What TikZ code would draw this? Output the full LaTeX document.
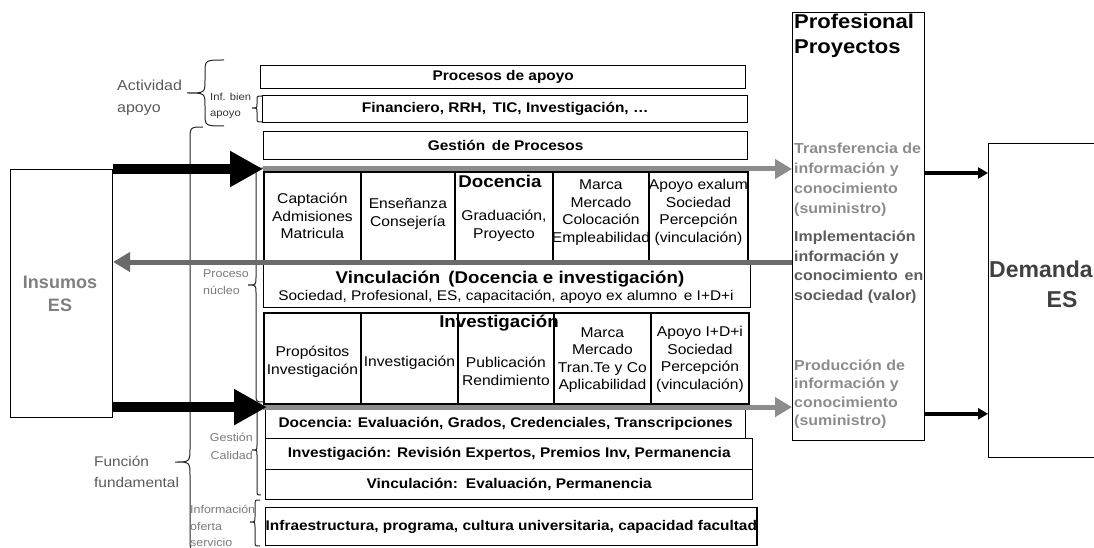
\documentclass[tikz,border=0pt]{standalone}
\usepackage{fontspec}
\setmainfont{Liberation Sans}[FakeStretch=1.1]
\newfontfamily\plainsans{Liberation Sans}
\usetikzlibrary{arrows.meta,calc}
\newcommand\fsz[2]{\fontsize{#1}{#2}\selectfont}
% left-pointing curly brace: xe, xm, xt, ytop, ytip, ybottom, radius
\newcommand\curlyleft[7]{%
  \draw[bracepen] (#1,#4) .. controls (#2,#4) .. (#2,{#4+#7}) -- (#2,{#5-#7})
    .. controls (#2,#5) .. (#3,#5) .. controls (#2,#5) .. (#2,{#5+#7})
    -- (#2,{#6-#7}) .. controls (#2,#6) .. (#1,#6);}
\definecolor{labgray}{HTML}{5A5A5A}
\definecolor{smallgray}{HTML}{7A7A7A}
\definecolor{flowgray}{HTML}{8C8C8C}
\definecolor{backgray}{HTML}{6A6A6A}
\definecolor{insgray}{HTML}{7F7F7F}
\definecolor{impgray}{HTML}{5C5C5C}
\definecolor{demgray}{HTML}{404040}
\definecolor{infgray}{HTML}{333333}
\begin{document}
\begin{tikzpicture}[x=1pt,y=-1pt,
  frame/.style={draw=black, line width=1.1pt, inner sep=0pt, anchor=north west},
  box/.style={draw=black, line width=1.4pt, inner sep=0pt, anchor=north west,
    font=\fsz{14}{16}\bfseries},
  cell/.style={draw=black, line width=1.8pt, inner sep=0pt, anchor=north west,
    minimum height=91pt},
  celltxt/.style={align=center, inner sep=0pt, font=\fsz{14.2}{17.5}},
  rowtitle/.style={inner sep=0pt, anchor=base, font=\fsz{17}{20}\bfseries},
  sidelbl/.style={align=left, inner sep=0pt, text=labgray, font=\fsz{14.5}{21.5}},
  smalllbl/.style={align=left, inner sep=0pt, text=smallgray, font=\fsz{11.3}{17}},
  outtxt/.style={align=left, inner sep=0pt, anchor=west, font=\fsz{14.5}{20}\bfseries},
  bracepen/.style={draw=black!85, line width=1pt},
  bigarrow/.style={draw=black, line width=10pt, -{Triangle[length=33pt,width=34pt]}},
  flowarrow/.style={draw=flowgray, line width=5pt, -{Triangle[length=17pt,width=19pt]}},
  backarrow/.style={draw=backgray, line width=5pt, -{Triangle[length=17pt,width=19pt]}},
  outarrow/.style={draw=black, line width=3.5pt, -{Triangle[length=10pt,width=11pt]}}
]
\useasboundingbox (0,0) rectangle (1094,548);
\clip (0,0) rectangle (1094,548);

% outer blocks
\node[frame, minimum width=102pt, minimum height=248pt] (ins) at (10,169) {};
\node[inner sep=0pt, align=center, text=insgray, font=\plainsans\fsz{18}{23}\bfseries]
  (instxt) at (60,294) {Insumos\\ES};
\node[frame, minimum width=132pt, minimum height=428pt] (prof) at (792,12) {};
\node[frame, minimum width=130pt, minimum height=314pt] (dem) at (988,143) {};
\node[inner sep=0pt, anchor=base, text=demgray, font=\plainsans\fsz{23}{28}\bfseries]
  (demtxt) at (1041,277) {Demanda};
\node[inner sep=0pt, anchor=base, text=demgray, font=\plainsans\fsz{23}{28}\bfseries]
  (demes) at (1062,307) {ES};

% support and management bars
\node[box, minimum width=485pt, minimum height=23pt] (apoyo) at (260,65) {Procesos de apoyo};
\node[box, minimum width=485pt, minimum height=27pt] (financ) at (262,95)
  {Financiero, RRH,\, TIC, Investigación, \ldots};
\node[box, minimum width=484pt, minimum height=28pt] (gestion) at (263,131) {Gestión\, de Procesos};

% teaching row
\node[cell, minimum width=97pt] (d1) at (263,171) {};
\node[cell, minimum width=94pt] (d2) at (360,171) {};
\node[cell, minimum width=98pt] (d3) at (454,171) {};
\node[cell, minimum width=96pt] (d4) at (552,171) {};
\node[cell, minimum width=99pt] (d5) at (648,171) {};
\node[celltxt] (d1t) at ($(d1.center)+(0,-1.5)$) {Captación\\Admisiones\\Matricula};
\node[celltxt] (d2t) at ($(d2.center)+(0,-3.5)$) {Enseñanza\\Consejería};
\node[celltxt] (d3t) at ($(d3.center)+(0,8.5)$) {Graduación,\\Proyecto};
\node[celltxt] (d4t) at ($(d4.center)+(0,-5)$) {Marca\\Mercado\\Colocación\\Empleabilidad};
\node[celltxt] (d5t) at ($(d5.center)+(0,-5)$) {Apoyo exalum\\Sociedad\\Percepción\\(vinculación)};
\node[rowtitle] (dtitle) at (500,188) {Docencia};

% outreach bar
\node[frame, line width=1.4pt, minimum width=487pt, minimum height=45pt] (vinc) at (263,262) {};
\node[inner sep=0pt, anchor=base, font=\fsz{17}{20}\bfseries] (vinct) at (510,283)
  {Vinculación\, (Docencia e investigación)};
\node[inner sep=0pt, anchor=base, font=\fsz{14}{17}] (vincs) at (506,300)
  {Sociedad, Profesional, ES, capacitación, apoyo ex alumno\, e I+D+i};

% research row
\node[cell, minimum width=97pt] (i1) at (263,312) {};
\node[cell, minimum width=97pt] (i2) at (360,312) {};
\node[cell, minimum width=96pt] (i3) at (457,312) {};
\node[cell, minimum width=97pt] (i4) at (553,312) {};
\node[cell, minimum width=98pt] (i5) at (650,312) {};
\node[celltxt] (i1t) at ($(i1.center)+(0,3.5)$) {Propósitos\\Investigación};
\node[celltxt] (i2t) at ($(i2.center)+(0,4.5)$) {Investigación};
\node[celltxt] (i3t) at ($(i3.center)+(0,13)$) {Publicación\\Rendimiento};
\node[celltxt] (i4t) at ($(i4.center)+(0,1.5)$) {Marca\\Mercado\\Tran.Te y Co\\Aplicabilidad};
\node[celltxt] (i5t) at ($(i5.center)+(0,1)$) {Apoyo I+D+i\\Sociedad\\Percepción\\(vinculación)};
\node[rowtitle] (ititle) at (499,327) {Investigación};

% quality bars
\node[box, minimum width=480pt, minimum height=30pt] (qdoc) at (265,408)
  {Docencia: Evaluación, Grados, Credenciales, Transcripciones};
\node[box, minimum width=487pt, minimum height=31pt] (qinv) at (265,438)
  {Investigación: Revisión Expertos, Premios Inv, Permanencia};
\node[box, minimum width=487pt, minimum height=30pt] (qvin) at (265,469)
  {Vinculación:\, Evaluación, Permanencia};
\node[box, minimum width=487pt, minimum height=38pt] (infra) at (265,507)
  {Infraestructura, programa, cultura universitaria, capacidad facultad};

% side labels and braces
\node[sidelbl, anchor=west] (actl) at (117,98) {Actividad\\apoyo};
\curlyleft{224}{205}{187}{60}{93}{126}{13}
\node[inner sep=0pt, align=left, anchor=west, text=infgray, font=\fsz{10.2}{15.5}]
  (infl) at (210,106) {Inf. bien\\apoyo};
\curlyleft{262}{257}{252}{96}{108}{122}{4}
\node[sidelbl, anchor=west, font=\fsz{14}{21}] (funl) at (94,472) {Función\\fundamental};
\curlyleft{203}{190}{175}{127}{462}{552}{15}
\node[smalllbl, anchor=west] (nucl) at (203,282) {Proceso\\núcleo};
\curlyleft{264}{256}{248}{168}{285}{402}{8}
\node[smalllbl, anchor=east, align=right, font=\fsz{11.3}{18}] (call) at (253,446) {Gestión\\Calidad};
\curlyleft{261}{257}{252}{406}{450}{495}{5}
\node[smalllbl, anchor=north west, font=\fsz{11.3}{16.5}] (infol) at (190,505)
  {Información\\oferta\\servicio};
\curlyleft{260}{255}{250}{500}{522}{546}{5}

% professional block texts
\node[inner sep=0pt, align=left, anchor=north west, font=\fsz{20}{25}\bfseries]
  (proft) at (794,14) {Profesional\\Proyectos};
\node[outtxt, text=flowgray] (trans) at (794,180)
  {Transferencia de\\información y\\conocimiento\\(suministro)};
\node[outtxt, text=impgray, font=\fsz{14.5}{19.5}\bfseries] (impl) at (794,267)
  {Implementación\\información y\\conocimiento\, en\\sociedad (valor)};
\node[outtxt, text=flowgray, font=\fsz{14.5}{18.5}\bfseries] (prod) at (794,394)
  {Producción de\\información y\\conocimiento\\(suministro)};

% flows
\coordinate (lowin) at ([yshift=11pt]ins.south east);
\coordinate (lowout) at ([yshift=-9pt]i1.south);
\draw[flowarrow] (ins.north east -| d1.west) -- (ins.north east -| prof.west);
\draw[bigarrow] (ins.north east) -- (ins.north east -| d1.west);
\draw[flowarrow] (lowin -| i1.west) -- (lowin -| prof.west);
\draw[bigarrow] (lowin) -- ([xshift=4pt]lowin -| i1.west);
\draw[backarrow] (vinc.north -| prof.west) -- (vinc.north -| ins.east);
\draw[outarrow] ([yshift=-2pt]d1.north -| prof.east) -- ([yshift=-2pt]d1.north -| dem.west);
\draw[outarrow] (lowout -| prof.east) -- (lowout -| dem.west);
\end{tikzpicture}
\end{document}
